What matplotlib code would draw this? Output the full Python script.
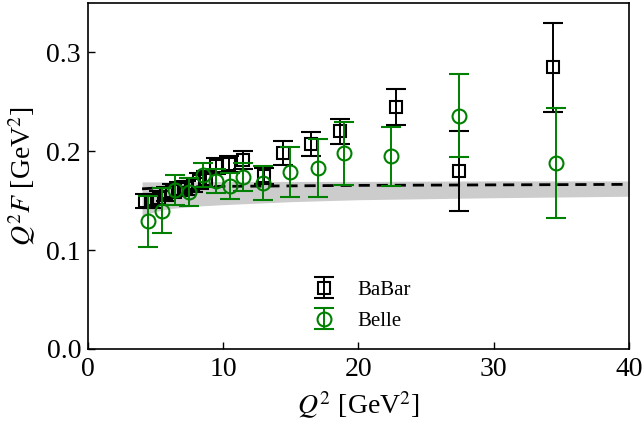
import matplotlib
matplotlib.use("Agg")
import matplotlib.pyplot as plt

plt.rcParams['font.family'] = ['Liberation Serif', 'DejaVu Serif']
plt.rcParams['mathtext.fontset'] = 'stix'

# BaBar measurements: Q^2 [GeV^2], Q^2 F [GeV], uncertainty
babar_q2 = [4.24, 4.74, 5.24, 5.74, 6.24, 6.74, 7.24, 7.74, 8.24, 8.74,
            9.45, 10.45, 11.45, 13.0, 14.4, 16.5, 18.6, 22.8, 27.4, 34.4]
babar_f = [0.150, 0.150, 0.153, 0.157, 0.160, 0.162, 0.163, 0.166, 0.170, 0.172,
           0.185, 0.187, 0.191, 0.175, 0.198, 0.207, 0.220, 0.245, 0.180, 0.285]
babar_err = [0.007, 0.007, 0.007, 0.007, 0.007, 0.007, 0.007, 0.007, 0.008, 0.008,
             0.008, 0.008, 0.009, 0.008, 0.012, 0.012, 0.013, 0.018, 0.040, 0.045]

# Belle measurements
belle_q2 = [4.46, 5.47, 6.47, 7.47, 8.48, 9.48, 10.48, 11.48, 12.95, 14.97,
            16.97, 18.95, 22.4, 27.4, 34.6]
belle_f = [0.129, 0.140, 0.161, 0.159, 0.176, 0.170, 0.165, 0.174, 0.168, 0.179,
           0.183, 0.198, 0.195, 0.236, 0.188]
belle_err = [0.026, 0.023, 0.015, 0.014, 0.012, 0.012, 0.013, 0.014, 0.017, 0.025,
             0.029, 0.032, 0.030, 0.042, 0.056]

# Theory prediction: central curve and uncertainty band
theory_q2 = [4, 5, 6, 8, 10, 15, 20, 30, 40]
theory_f = [0.162, 0.1628, 0.1634, 0.164, 0.1645, 0.165, 0.1655, 0.166, 0.1665]
band_lo = [0.135, 0.139, 0.142, 0.1445, 0.146, 0.149, 0.151, 0.153, 0.1545]
band_hi = [0.169, 0.169, 0.169, 0.169, 0.1695, 0.1695, 0.1695, 0.170, 0.170]

fig = plt.figure(figsize=(6.44, 4.26), dpi=100)
ax = fig.add_axes([0.1366, 0.1808, 0.8401, 0.8122])

ax.fill_between(theory_q2, band_lo, band_hi, color='0.80', lw=0, zorder=1)
ax.plot(theory_q2, theory_f, color='black', ls=(0, (4, 2.5)), lw=2.0, zorder=2)

ax.errorbar(babar_q2, babar_f, yerr=babar_err, fmt='s', mfc='none', mec='black',
            mew=1.5, ms=9, color='black', ecolor='black', elinewidth=1.4,
            capsize=7, capthick=1.4, label='BaBar', zorder=3)
ax.errorbar(belle_q2, belle_f, yerr=belle_err, fmt='o', mfc='none', mec='green',
            mew=1.5, ms=10, color='green', ecolor='green', elinewidth=1.4,
            capsize=7, capthick=1.4, label='Belle', zorder=4)

ax.set_xlim(0, 40)
ax.set_ylim(0, 0.35)
ax.set_xticks([0, 10, 20, 30, 40])
ax.set_yticks([0.0, 0.1, 0.2, 0.3])
ax.set_yticklabels(['0.0', '0.1', '0.2', '0.3'])
ax.tick_params(direction='in', length=5, width=1.0, labelsize=20,
               top=False, right=False)
ax.tick_params(axis='x', pad=6)
ax.tick_params(axis='y', pad=5)
for s in ax.spines.values():
    s.set_linewidth(1.2)

ax.set_xlabel(r'$Q^2$ [GeV$^2$]', fontsize=20, labelpad=5)
ax.set_ylabel(r'$Q^2F$ [GeV$^2$]', fontsize=20, labelpad=6)

ax.legend(loc='center', bbox_to_anchor=(0.497, 0.125), frameon=False,
          fontsize=15, handletextpad=0.6, labelspacing=0.55)

fig.savefig('out.png', dpi=100)
